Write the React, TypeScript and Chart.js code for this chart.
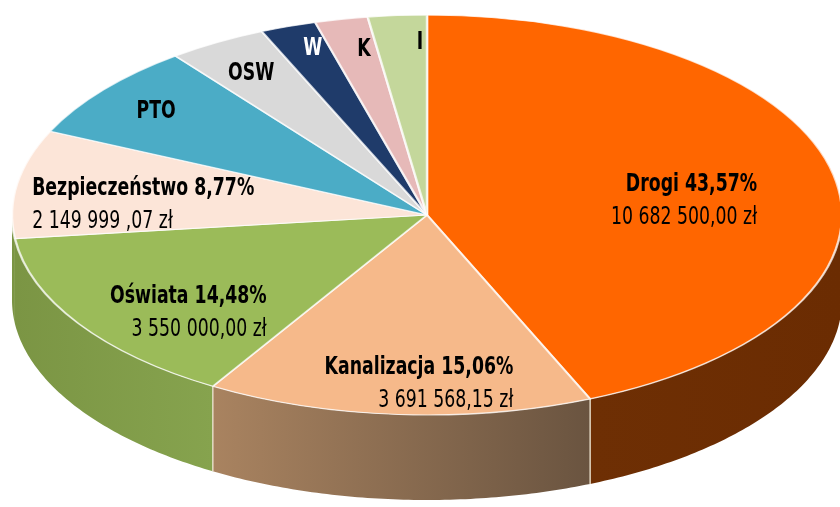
import React, { useEffect, useRef } from 'react';
import { Chart, registerables } from 'chart.js';

Chart.register(...registerables);

// ---- data ----
const categories = ['Drogi', 'Kanalizacja', 'Oświata', 'Bezpieczeństwo', 'PTO', 'OSW', 'W', 'K', 'I'];
const percentages = [43.57, 15.06, 14.48, 8.77, 7.75, 3.86, 2.17, 2.06, 2.28];
const percentLabels = ['43,57%', '15,06%', '14,48%', '8,77%', '', '', '', '', ''];
const amountLabels = ['10 682 500,00 zł', '3 691 568,15 zł', '3 550 000,00 zł', '2 149 999 ,07 zł', '', '', '', '', ''];

// ---- styles ----
const topColors = ['#FF6600', '#F6B98A', '#9BBB59', '#FCE5D8', '#4BACC6', '#D9D9D9', '#1F3B6A', '#E6B9B8', '#C4D79B'];
const sideLight = ['#6E2F04', '#A98360', '#7B9544', '#7B9544', '#347D91', '#A8A8A8', '#142848', '#B58D8C', '#94A872'];
const sideDark = ['#6B2C02', '#6A5440', '#86A34E', '#7B9544', '#2B6B7D', '#999999', '#0F1F3A', '#A07C7B', '#84976A'];
const textColors = ['#000', '#000', '#000', '#000', '#000', '#000', '#FFFFFF', '#000', '#000'];
const labelAlign: CanvasTextAlign[] = ['right', 'right', 'right', 'left', 'center', 'center', 'center', 'center', 'center'];
const labelRadius = [0.799, 0.87, 0.62, 0.953, 0.832, 0.823, 0.879, 0.839, 0.865];
const labelAngleShift = [6.2, -17.8, -18.6, -5.7, -0.4, -0.6, 1.3, 1.5, 3.0];

// ellipse geometry of the tilted pie
const CX = 427;
const CY = 215;
const RX = 415;
const RY = 200;
const DEPTH = 85;

const FAMILY = '"Liberation Sans Narrow", "DejaVu Sans Condensed", "Arial Narrow", sans-serif';
const BOLD = 'bold 25px ' + FAMILY;
const REG = '25px ' + FAMILY;
const CONDENSE = 0.77;

const norm = (a: number) => {
  let r = a % (Math.PI * 2);
  if (r < 0) r += Math.PI * 2;
  return r;
};

const drawText = (ctx: CanvasRenderingContext2D, text: string, x: number, y: number) => {
  ctx.save();
  ctx.translate(x, y);
  ctx.scale(CONDENSE, 1);
  ctx.fillText(text, 0, 0);
  ctx.restore();
};

const threeD = {
  id: 'threeD',
  beforeDatasetsDraw(chart: any) {
    const ctx: CanvasRenderingContext2D = chart.ctx;
    const meta = chart.getDatasetMeta(0);
    const arcs = meta.data;
    if (!arcs.length) return;
    // side walls (front half: angles 0..PI)
    arcs.forEach((arc: any, i: number) => {
      const { startAngle, endAngle } = arc.getProps(['startAngle', 'endAngle'], true);
      for (const off of [0, Math.PI * 2, -Math.PI * 2]) {
        const s = Math.max(startAngle + off, 0);
        const e = Math.min(endAngle + off, Math.PI);
        if (e <= s) continue;
        const steps = Math.max(8, Math.ceil((e - s) * 80));
        ctx.save();
        ctx.beginPath();
        for (let k = 0; k <= steps; k++) {
          const t = s + ((e - s) * k) / steps;
          const x = CX + RX * Math.cos(t);
          const y = CY + RY * Math.sin(t);
          if (k === 0) ctx.moveTo(x, y);
          else ctx.lineTo(x, y);
        }
        for (let k = steps; k >= 0; k--) {
          const t = s + ((e - s) * k) / steps;
          ctx.lineTo(CX + RX * Math.cos(t), CY + RY * Math.sin(t) + DEPTH);
        }
        ctx.closePath();
        const x0 = CX + RX * Math.cos(e);
        const x1 = CX + RX * Math.cos(s);
        const g = ctx.createLinearGradient(Math.min(x0, x1), 0, Math.max(x0, x1) + 0.01, 0);
        g.addColorStop(0, sideLight[i]);
        g.addColorStop(1, sideDark[i]);
        ctx.fillStyle = g;
        ctx.fill();
        ctx.restore();
      }
    });
    // separator lines on the wall
    arcs.forEach((arc: any) => {
      const { startAngle } = arc.getProps(['startAngle'], true);
      const a = norm(startAngle);
      if (a > 0.2 && a < Math.PI - 0.2) {
        const x = CX + RX * Math.cos(a);
        const y = CY + RY * Math.sin(a);
        ctx.save();
        ctx.strokeStyle = 'rgba(235,225,205,0.9)';
        ctx.lineWidth = 1.5;
        ctx.beginPath();
        ctx.moveTo(x, y);
        ctx.lineTo(x, y + DEPTH);
        ctx.stroke();
        ctx.restore();
      }
    });
    // flatten the library's circle into the ellipse for the top face
    const a0 = arcs[0];
    const R = a0.outerRadius;
    ctx.save();
    ctx.translate(CX, CY);
    ctx.scale(RX / R, RY / R);
    ctx.translate(-a0.x, -a0.y);
  },
  afterDatasetsDraw(chart: any) {
    chart.ctx.restore();
  },
  afterDraw(chart: any) {
    const ctx: CanvasRenderingContext2D = chart.ctx;
    const meta = chart.getDatasetMeta(0);
    meta.data.forEach((arc: any, i: number) => {
      const { startAngle, endAngle } = arc.getProps(['startAngle', 'endAngle'], true);
      const mid = (startAngle + endAngle) / 2 + (labelAngleShift[i] * Math.PI) / 180;
      const px = CX + RX * labelRadius[i] * Math.cos(mid);
      const py = CY + RY * labelRadius[i] * Math.sin(mid);
      ctx.save();
      ctx.fillStyle = textColors[i];
      ctx.textAlign = labelAlign[i];
      ctx.textBaseline = 'middle';
      if (amountLabels[i]) {
        ctx.font = BOLD;
        drawText(ctx, categories[i] + ' ' + percentLabels[i], px, py - 16);
        ctx.font = REG;
        drawText(ctx, amountLabels[i], px, py + 17);
      } else {
        ctx.font = BOLD;
        drawText(ctx, categories[i], px, py);
      }
      ctx.restore();
    });
  },
};

export default function App() {
  const ref = useRef<HTMLCanvasElement | null>(null);
  useEffect(() => {
    if (!ref.current) return;
    const chart = new Chart(ref.current, {
      type: 'pie',
      data: {
        labels: categories,
        datasets: [
          {
            data: percentages,
            backgroundColor: topColors,
            borderColor: 'rgba(255,255,255,0.75)',
            borderWidth: 1.5,
            clip: false as any,
          } as any,
        ],
      },
      options: {
        animation: false,
        responsive: false,
        events: [],
        layout: { padding: 0 },
        plugins: { legend: { display: false }, tooltip: { enabled: false } },
      },
      plugins: [threeD as any],
    });
    return () => chart.destroy();
  }, []);
  return (
    <div style={{ position: 'absolute', left: 0, top: 0, width: 840, height: 507, background: '#fff' }}>
      <canvas ref={ref} width={840} height={507} style={{ display: 'block' }} />
    </div>
  );
}
